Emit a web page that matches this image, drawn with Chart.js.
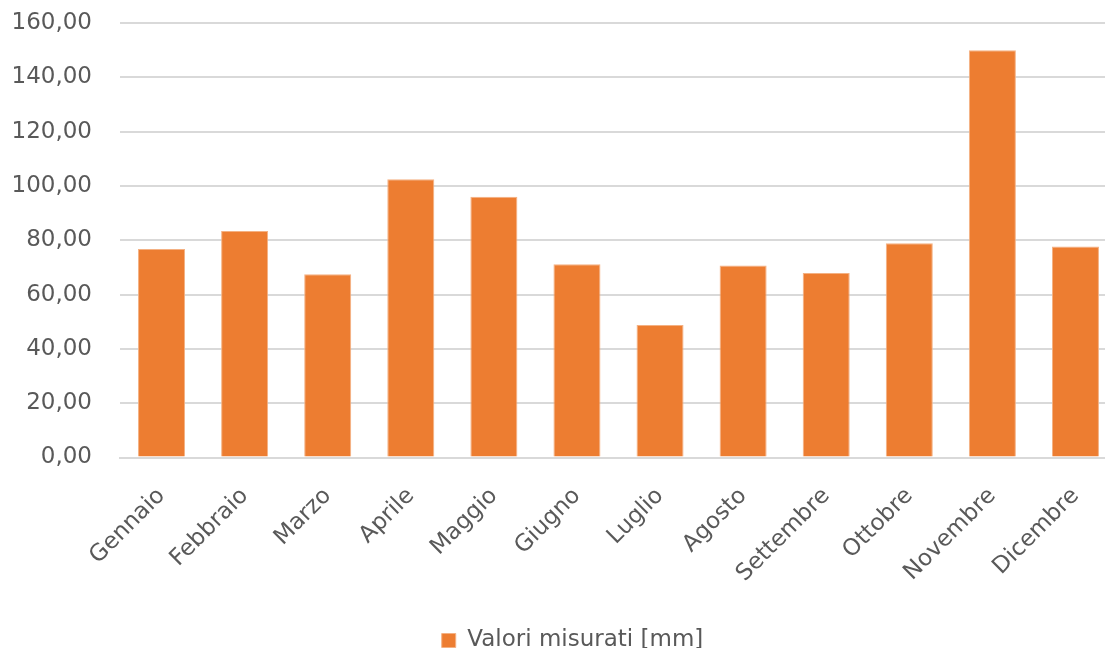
<!DOCTYPE html>
<html>
<head>
<meta charset="utf-8">
<script src="https://cdn.jsdelivr.net/npm/chart.js@4/dist/chart.umd.min.js"></script>
<style>
  html, body { margin:0; padding:0; background:#fff; overflow:hidden; }
  #wrap { position:relative; width:1150px; height:667px; }
</style>
</head>
<body>
<div id="wrap"><canvas id="rain"></canvas></div>
<script>
'use strict';

// --- Dati mensili ---
const mesi = ['Gennaio','Febbraio','Marzo','Aprile','Maggio','Giugno','Luglio','Agosto','Settembre','Ottobre','Novembre','Dicembre'];
const valori = [76.8, 83.4, 67.5, 102.5, 96.0, 71.2, 48.8, 70.7, 67.9, 78.9, 150.0, 77.7];
const serieLabel = 'Valori misurati [mm]';
const yMin = 0, yMax = 160, yStep = 20;

const ARANCIO = '#ED7D31';
const TESTO = '#595959';
const FONT = 'DejaVu Sans';

// formato italiano con due decimali
const fmt = v => v.toFixed(2).replace('.', ',');

// sposta la legenda un po' a destra rispetto al centro del layout
const spostaLegenda = {
  id: 'spostaLegenda',
  afterLayout(chart){
    const l = chart.legend;
    if(!l) return;
    l.left += 14; l.right += 14;
  }
};

new Chart(document.getElementById('rain'), {
  type: 'bar',
  data: {
    labels: mesi,
    datasets: [{
      label: serieLabel,
      data: valori,
      backgroundColor: ARANCIO,
      borderColor: '#F4B183',
      borderWidth: 1,
      barPercentage: 0.566,
      categoryPercentage: 1
    }]
  },
  plugins: [spostaLegenda],
  options: {
    responsive: true,
    maintainAspectRatio: false,
    animation: false,
    layout: { padding: { left: 0, right: 33, top: 23, bottom: 5 } },
    plugins: {
      tooltip: { enabled: false },
      legend: {
        position: 'bottom',
        labels: {
          color: TESTO,
          font: { family: FONT, size: 23 },
          boxWidth: 14,
          boxHeight: 14,
          padding: 6
        }
      }
    },
    scales: {
      x: {
        // etichette ruotate: niente margine extra a sinistra, altezza fissa
        afterFit: s => { s.paddingLeft = 0; s.paddingRight = 0; s.height = 165.5; },
        grid: { display: false, drawTicks: false },
        border: { color: '#d9d9d9', width: 2 },
        ticks: {
          color: TESTO,
          font: { family: FONT, size: 23 },
          minRotation: 45,
          maxRotation: 45,
          padding: 25,
          autoSkip: false
        }
      },
      y: {
        min: yMin,
        max: yMax,
        afterFit: s => { s.width = 120; s.paddingTop = 0; s.paddingBottom = 0; },
        grid: { color: '#d9d9d9', lineWidth: 2, drawTicks: false },
        border: { display: false },
        ticks: {
          stepSize: yStep,
          color: TESTO,
          font: { family: FONT, size: 23 },
          padding: 28,
          callback: v => fmt(v)
        }
      }
    }
  }
});
</script>
</body>
</html>
